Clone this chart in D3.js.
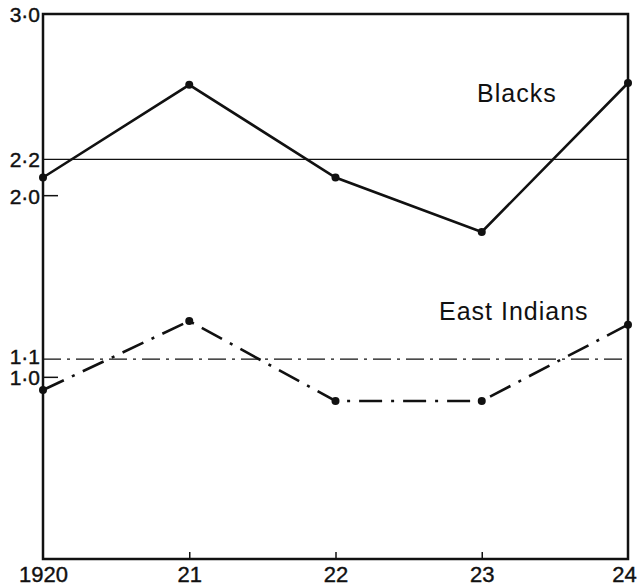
<!DOCTYPE html>
<html>
<head>
<meta charset="utf-8">
<script src="https://cdn.jsdelivr.net/npm/d3@7"></script>
<style>
    body { margin: 0; background: #fff; }
    text { font-family: "Liberation Sans", Arial, sans-serif; fill: #111; }
    .tick text { stroke: #111; stroke-width: 0.4px; }
</style>
</head>
<body>
<svg class="plot" width="638" height="587"></svg>
<script>
const years = [1920, 1921, 1922, 1923, 1924];
const year_labels = ['1920', '21', '22', '23', '24'];
const blacks = [2.10, 2.61, 2.10, 1.80, 2.62];
const east_indians = [0.93, 1.31, 0.87, 0.87, 1.29];
const y_ticks = [3.0, 2.2, 2.0, 1.1, 1.0];
const y_tick_labels = ['3·0', '2·2', '2·0', '1·1', '1·0'];
const ref_lines = [{v: 2.2, dash: null}, {v: 1.1, dash: '18,6,3,6'}];
const series_names = ['Blacks', 'East Indians'];

const sizes = {
    margins: {l: 43, r: 10, t: 14, b: 28}
}
const W = 638, H = 587;

const xS = d3.scaleLinear().domain([1920, 1924])
  .range([sizes.margins.l, W - sizes.margins.r]);
const yS = d3.scaleLinear().domain([0, 3])
  .range([H - sizes.margins.b, sizes.margins.t]);

const plot = d3.select('.plot');
const l_bg = plot.append('g');
const l_main = plot.append('g');
const l_fg = plot.append('g');

// reference levels
l_bg.selectAll('.ref').data(ref_lines)
  .join('line')
  .attr('class', 'ref')
  .attr('x1', xS.range()[0]).attr('x2', xS.range()[1])
  .attr('y1', d => yS(d.v)).attr('y2', d => yS(d.v))
  .attr('stroke', '#111')
  .attr('stroke-width', 1.3)
  .attr('stroke-dasharray', d => d.dash);

// frame
const [x0, x1] = xS.range();
const [y0, y1] = yS.range();
l_fg.append('rect')
  .attr('x', x0).attr('y', y1)
  .attr('width', x1 - x0).attr('height', y0 - y1)
  .attr('fill', 'none')
  .attr('stroke', '#111')
  .attr('stroke-width', 2.5);

// x axis: ticks point inward, no domain path
const xAxis = d3.axisBottom(xS)
  .tickValues(years)
  .tickSize(-7)
  .tickPadding(7)
  .tickFormat((d, i) => year_labels[i]);
l_fg.append('g')
  .attr('transform', `translate(0,${y0})`)
  .call(xAxis)
  .attr('font-size', 22)
  .attr('font-family', null)
  .call(g => g.select('.domain').remove())
  .call(g => g.selectAll('.tick line').attr('stroke', '#111').attr('stroke-width', 1.5)
    .style('display', (d, i) => (i === 0 || i === years.length - 1) ? 'none' : null))
  .call(g => g.selectAll('.tick text').attr('fill', '#111')
    .attr('dx', (d, i) => i === years.length - 1 ? -4 : 0));

// y axis: labels only, short inward ticks for 2.0 and 1.0
const yAxis = d3.axisLeft(yS)
  .tickValues(y_ticks)
  .tickSize(0)
  .tickPadding(3)
  .tickFormat((d, i) => y_tick_labels[i]);
l_fg.append('g')
  .attr('transform', `translate(${x0},0)`)
  .call(yAxis)
  .attr('font-size', 21)
  .attr('font-family', null)
  .call(g => g.select('.domain').remove())
  .call(g => g.selectAll('.tick text')
    .attr('dy', (d, i) => i === 3 ? '0.2em' : '0.36em')
    .attr('fill', '#111'));

l_fg.selectAll('.ytick').data([2.0, 1.0])
  .join('line')
  .attr('class', 'ytick')
  .attr('x1', x0).attr('x2', x0 + 15)
  .attr('y1', d => yS(d)).attr('y2', d => yS(d))
  .attr('stroke', '#111')
  .attr('stroke-width', 1.5);

// series
const series = [
    {name: series_names[0], values: blacks, dash: null, lx: 477, ly: 102},
    {name: series_names[1], values: east_indians, dash: '23,9,3,9', lx: 439, ly: 320}
];

const line = d3.line()
  .x((d, i) => xS(years[i]))
  .y(d => yS(d));

series.forEach(s => {
    l_main.append('path')
      .datum(s.values)
      .attr('d', line)
      .attr('fill', 'none')
      .attr('stroke', '#111')
      .attr('stroke-width', 2.6)
      .attr('stroke-dasharray', s.dash);

    l_main.selectAll(null).data(s.values)
      .join('circle')
      .attr('cx', (d, i) => xS(years[i]))
      .attr('cy', d => yS(d))
      .attr('r', 4)
      .attr('fill', '#111');

    l_main.append('text')
      .attr('x', s.lx).attr('y', s.ly)
      .style('font-size', '25px')
      .style('letter-spacing', '1px')
      .text(s.name);
});
</script>
</body>
</html>
